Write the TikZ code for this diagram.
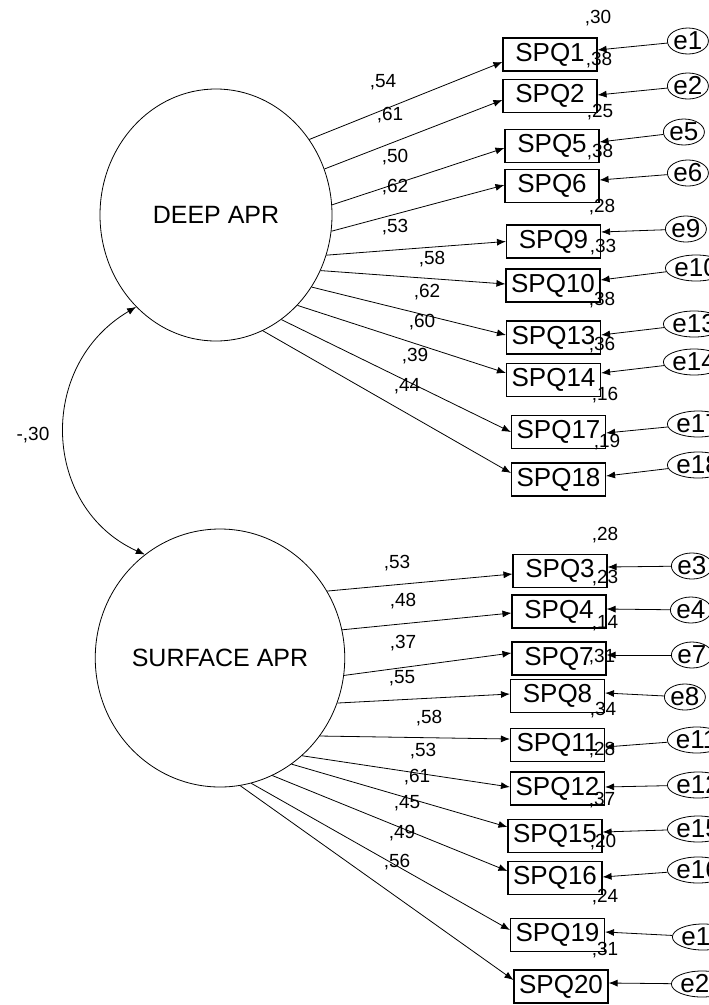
\documentclass[tikz,border=0pt]{standalone}
\usepackage{fontspec}
\setmainfont{Liberation Sans}
\usetikzlibrary{shapes.geometric,arrows.meta}
\begin{document}
\begin{tikzpicture}[x=1pt,y=-1pt,
  lat/.style={draw, ellipse, line width=0.8pt, inner sep=0pt, minimum width=232pt, minimum height=252pt, font=\fontsize{25}{28}\selectfont},
  obs/.style={draw, rectangle, line width=1.1pt, inner sep=0pt, minimum width=94pt, minimum height=33pt, font=\fontsize{26}{28}\selectfont},
  err/.style={draw, ellipse, line width=0.8pt, inner sep=0pt, minimum width=41pt, minimum height=26pt, anchor=west, font=\fontsize{26}{28}\selectfont},
  num/.style={inner sep=0pt, font=\fontsize{19}{21}\selectfont},
  arr/.style={-{Latex[length=9pt,width=7pt]}, line width=0.8pt},
  dbl/.style={{Latex[length=9pt,width=7pt]}-{Latex[length=9pt,width=7pt]}, line width=0.8pt}]
\useasboundingbox (0,0) rectangle (709,1005);

% latent variables
\node[lat, minimum width=232pt, minimum height=252pt] (deep) at (216,215) {DEEP APR};
\node[lat, minimum width=238pt, minimum height=258pt] (surf) at (220,658) {SURFACE APR};

% observed variables (deep)
\node[obs] (s1)  at (550,54.5) {SPQ1};
\node[obs] (s2)  at (550,96) {SPQ2};
\node[obs] (s5)  at (552,146) {SPQ5};
\node[obs] (s6)  at (552,186) {SPQ6};
\node[obs] (s9)  at (553.5,241.5) {SPQ9};
\node[obs] (s10) at (553,285.5) {SPQ10};
\node[obs] (s13) at (553.5,337.5) {SPQ13};
\node[obs] (s14) at (553.5,380) {SPQ14};
\node[obs] (s17) at (558.5,432) {SPQ17};
\node[obs] (s18) at (558.5,479.5) {SPQ18};
% observed variables (surface)
\node[obs] (s3)  at (560,571) {SPQ3};
\node[obs] (s4)  at (559,611.5) {SPQ4};
\node[obs] (s7)  at (559,658.5) {SPQ7};
\node[obs] (s8)  at (557.5,696) {SPQ8};
\node[obs] (s11) at (557.5,745) {SPQ11};
\node[obs] (s12) at (557.5,788.5) {SPQ12};
\node[obs] (s15) at (555,836) {SPQ15};
\node[obs] (s16) at (555,878) {SPQ16};
\node[obs] (s19) at (557.5,935) {SPQ19};
\node[obs] (s20) at (561,986.5) {SPQ20};

% error terms
\node[err] (e1)  at (667,41) {e1};
\node[err] (e2)  at (667,86) {e2};
\node[err] (e5)  at (663,132) {e5};
\node[err] (e6)  at (667,173) {e6};
\node[err] (e9)  at (665,229) {e9};
\node[err] (e10) at (665,268) {e10};
\node[err] (e13) at (663,324) {e13};
\node[err] (e14) at (663,362) {e14};
\node[err] (e17) at (667,424) {e17};
\node[err] (e18) at (667,465) {e18};
\node[err] (e3)  at (671,566) {e3};
\node[err] (e4)  at (670,610) {e4};
\node[err] (e7)  at (671,655) {e7};
\node[err] (e8)  at (664,697) {e8};
\node[err] (e11) at (667,740) {e11};
\node[err] (e12) at (667,785) {e12};
\node[err] (e15) at (667,829) {e15};
\node[err] (e16) at (667,870) {e16};
\node[err] (e19) at (672,937) {e19};
\node[err] (e20) at (671,984) {e20};

% loadings deep
\draw[arr] (deep.39.3)  -- ([yshift=-7.5pt]s1.west);
\draw[arr] (deep.23.3)  -- ([yshift=-4pt]s2.west);
\draw[arr] (deep.5.9)   -- ([yshift=-2pt]s5.west);
\draw[arr] (deep.-8.3)  -- ([yshift=1pt]s6.west);
\draw[arr] (deep.-20.1) -- (s9.west);
\draw[arr] (deep.-28.7) -- ([yshift=1.5pt]s10.west);
\draw[arr] (deep.-37.2) -- ([yshift=2.5pt]s13.west);
\draw[arr] (deep.-48.9) -- ([yshift=7pt]s14.west);
\draw[arr] (deep.-58.6) -- (s17.west);
\draw[arr] (deep.-68.5) -- ([yshift=6.5pt]s18.west);
% loadings surface
\draw[arr] (surf.32.6)  -- ([yshift=-3pt]s3.west);
\draw[arr] (surf.13.9)  -- ([yshift=-1.5pt]s4.west);
\draw[arr] (surf.-8.2)  -- ([yshift=5.5pt]s7.west);
\draw[arr] (surf.-21.9) -- ([yshift=2pt]s8.west);
\draw[arr] (surf.-38.4) -- ([yshift=6pt]s11.west);
\draw[arr] (surf.-50.6) -- ([yshift=1.5pt]s12.west);
\draw[arr] (surf.-56.1) -- ([yshift=9pt]s15.west);
\draw[arr] (surf.-66.5) -- ([yshift=7pt]s16.west);
\draw[arr] (surf.-76.3) -- ([yshift=5pt]s19.west);
\draw[arr] (surf.-81.8) -- ([yshift=6.5pt]s20.west);

% error arrows
\draw[arr] (e1)  -- ([yshift=4.5pt]s1.east);
\draw[arr] (e2)  -- ([yshift=1pt]s2.east);
\draw[arr] (e5)  -- ([yshift=4pt]s5.east);
\draw[arr] (e6)  -- ([yshift=6pt]s6.east);
\draw[arr] (e9)  -- ([yshift=9.5pt]s9.east);
\draw[arr] (e10) -- ([yshift=5.5pt]s10.east);
\draw[arr] (e13) -- ([yshift=2.5pt]s13.east);
\draw[arr] (e14) -- ([yshift=7pt]s14.east);
\draw[arr] (e17) -- ([yshift=-1pt]s17.east);
\draw[arr] (e18) -- ([yshift=3.5pt]s18.east);
\draw[arr] (e3)  -- ([yshift=4pt]s3.east);
\draw[arr] (e4)  -- ([yshift=2.5pt]s4.east);
\draw[arr] (e7)  -- ([yshift=3.5pt]s7.east);
\draw[arr] (e8)  -- ([yshift=3pt]s8.east);
\draw[arr] (e11) -- ([yshift=-2pt]s11.east);
\draw[arr] (e12) -- ([yshift=1.5pt]s12.east);
\draw[arr] (e15) -- ([yshift=4pt]s15.east);
\draw[arr] (e16) -- ([yshift=1pt]s16.east);
\draw[arr] (e19) -- ([yshift=3pt]s19.east);
\draw[arr] (e20) -- ([yshift=3.5pt]s20.east);

% covariance
\draw[dbl] (deep.229.3) .. controls (36,366) and (42.3,508.2) .. (surf.126.3);
\node[num] (cov) at (33,435) {-,30};

% loading labels deep
\node[num] (l1)  at (383,82)  {,54};
\node[num] (l2)  at (390,115) {,61};
\node[num] (l5)  at (395,157) {,50};
\node[num] (l6)  at (395,187) {,62};
\node[num] (l9)  at (395,227) {,53};
\node[num] (l10) at (432,259) {,58};
\node[num] (l13) at (427,292) {,62};
\node[num] (l14) at (422,322) {,60};
\node[num] (l17) at (415,356) {,39};
\node[num] (l18) at (407,386) {,44};
% loading labels surface
\node[num] (l3)  at (397,563) {,53};
\node[num] (l4)  at (403,601) {,48};
\node[num] (l7)  at (403,643) {,37};
\node[num] (l8)  at (402,678) {,55};
\node[num] (l11) at (429,718) {,58};
\node[num] (l12) at (423,751) {,53};
\node[num] (l15) at (417,777) {,61};
\node[num] (l16) at (407,803) {,45};
\node[num] (l19) at (402,833) {,49};
\node[num] (l20) at (397,862) {,56};

% squared multiple correlations
\node[num] (r1)  at (598,18)  {,30};
\node[num] (r2)  at (599,60)  {,38};
\node[num] (r5)  at (600,112) {,25};
\node[num] (r6)  at (600,152) {,38};
\node[num] (r9)  at (602,207) {,28};
\node[num] (r10) at (603,247) {,33};
\node[num] (r13) at (602,300) {,38};
\node[num] (r14) at (602,345) {,36};
\node[num] (r17) at (605,395) {,16};
\node[num] (r18) at (607,442) {,19};
\node[num] (r3)  at (605,535) {,28};
\node[num] (r4)  at (605,578) {,23};
\node[num] (r7)  at (605,623) {,14};
\node[num] (r8)  at (602,657) {,31};
\node[num] (r11) at (603,710) {,34};
\node[num] (r12) at (602,750) {,28};
\node[num] (r15) at (602,800) {,37};
\node[num] (r16) at (603,842) {,20};
\node[num] (r19) at (605,897) {,24};
\node[num] (r20) at (605,950) {,31};
\end{tikzpicture}
\end{document}
